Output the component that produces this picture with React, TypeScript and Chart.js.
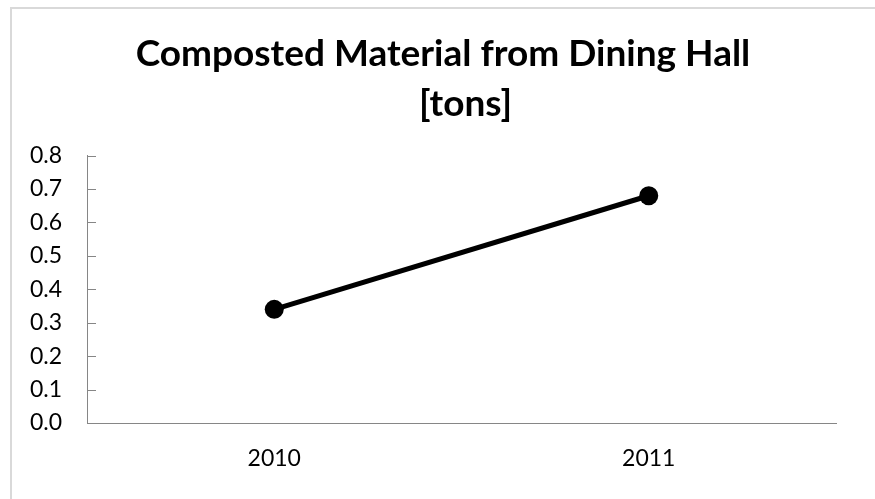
import React, { useEffect, useRef } from "react";
import { Chart, registerables } from "chart.js";

Chart.register(...registerables);

const categories: string[] = ["2010", "2011"];
const compostTons: number[] = [0.34, 0.68];
const titleLines: string[] = ["Composted Material from Dining Hall", "     [tons]"];
const yMin = 0;
const yMax = 0.8;
const yStep = 0.1;

const FONT = "Lato, 'Open Sans', sans-serif";
const AXIS_COLOR = "#868686";

const insideTicks = {
  id: "insideTicks",
  beforeDatasetsDraw(chart: any) {
    const y = chart.scales.y;
    const ctx = chart.ctx;
    const left = chart.chartArea.left;
    ctx.save();
    ctx.strokeStyle = AXIS_COLOR;
    ctx.lineWidth = 1;
    y.ticks.forEach((t: any) => {
      const py = Math.round(y.getPixelForValue(t.value)) + 0.5;
      ctx.beginPath();
      ctx.moveTo(left, py);
      ctx.lineTo(left + 9, py);
      ctx.stroke();
    });
    ctx.restore();
  },
};

export default function App() {
  const ref = useRef<HTMLCanvasElement | null>(null);
  useEffect(() => {
    if (!ref.current) return;
    const chart = new Chart(ref.current, {
      type: "line",
      data: {
        labels: categories,
        datasets: [
          {
            data: compostTons,
            borderColor: "#000000",
            backgroundColor: "#000000",
            borderWidth: 5,
            pointRadius: 9.5,
            pointBorderWidth: 0,
            pointBackgroundColor: "#000000",
            tension: 0,
            yAxisID: "y",
          },
        ],
      },
      options: {
        responsive: false,
        animation: false,
        layout: { padding: { left: 11, right: 0, top: 0, bottom: 0 } },
        plugins: {
          legend: { display: false },
          tooltip: { enabled: false },
          title: {
            display: true,
            text: titleLines,
            color: "#000000",
            font: { family: FONT, size: 37, weight: "bold", lineHeight: 1.36 },
            padding: { top: 29, bottom: 26 },
          },
        },
        scales: {
          x: {
            type: "category",
            offset: true,
            grid: { display: false, drawTicks: false },
            border: { display: true, color: AXIS_COLOR, width: 1 },
            ticks: {
              color: "#000000",
              font: { family: FONT, size: 23 },
              padding: 22,
              maxRotation: 0,
            },
            afterFit: (s: any) => {
              s.height = 76;
            },
          },
          y: {
            min: yMin,
            max: yMax,
            grid: { display: false, drawTicks: false },
            border: { display: true, color: AXIS_COLOR, width: 1 },
            ticks: {
              stepSize: yStep,
              color: "#000000",
              font: { family: FONT, size: 23 },
              padding: 25,
              callback: (v: any) => Number(v).toFixed(1),
            },
            afterFit: (s: any) => {
              s.width = 76;
            },
          },
          yRightSpace: {
            type: "linear",
            position: "right",
            min: yMin,
            max: yMax,
            grid: { display: false, drawTicks: false },
            border: { display: false },
            ticks: { display: false },
            afterFit: (s: any) => {
              s.width = 39;
            },
          },
        },
      },
      plugins: [insideTicks],
    });
    return () => chart.destroy();
  }, []);

  return (
    <div
      style={{
        position: "fixed",
        left: 0,
        top: 0,
        width: 875,
        height: 499,
        overflow: "hidden",
        background: "#ffffff",
      }}
    >
      <div
        style={{
          position: "absolute",
          left: 10,
          top: 7,
          width: 900,
          height: 600,
          borderTop: "2px solid #d9d9d9",
          borderLeft: "2px solid #d9d9d9",
        }}
      />
      <canvas
        ref={ref}
        width={875}
        height={499}
        style={{ position: "absolute", left: 0, top: 0, width: 875, height: 499 }}
      />
    </div>
  );
}
